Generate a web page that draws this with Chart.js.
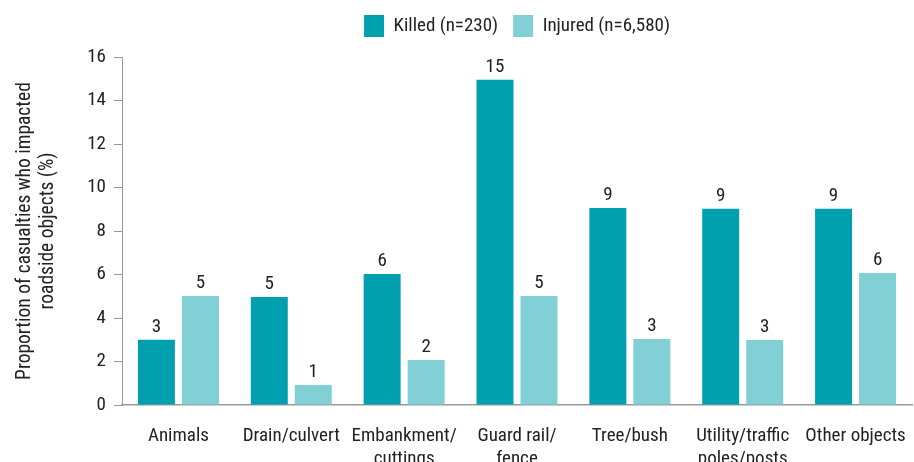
<!DOCTYPE html>
<html>
<head>
<meta charset="utf-8">
<script src="https://cdn.jsdelivr.net/npm/chart.js@4"></script>
<style>
  html, body { margin: 0; padding: 0; background: #fff; }
  #wrap { width: 914px; height: 462px; }
</style>
</head>
<body>
<div id="wrap"><canvas id="chart" width="914" height="462"></canvas></div>
<script>
// Categories and values
const categories = [
  "Animals",
  "Drain/culvert",
  ["Embankment/", "cuttings"],
  ["Guard rail/", "fence"],
  "Tree/bush",
  ["Utility/traffic", "poles/posts"],
  "Other objects",
];
const killed = [3.0, 4.97, 6.02, 14.95, 9.06, 9.02, 9.02];
const injured = [5.01, 0.92, 2.07, 5.01, 3.03, 2.99, 6.07];
const yTicks = [0, 2, 4, 6, 8, 10, 12, 14, 16];

const FONT = "'Liberation Sans Narrow', 'Arial Narrow', 'Roboto Condensed', sans-serif";
const TEXT = "#222";

// Draw rounded values above each bar
const valueLabels = {
  id: "valueLabels",
  afterDatasetsDraw(chart) {
    const ctx = chart.ctx;
    ctx.save();
    ctx.font = "19px " + FONT;
    ctx.fillStyle = TEXT;
    ctx.textAlign = "center";
    ctx.textBaseline = "bottom";
    chart.data.datasets.forEach((ds, i) => {
      chart.getDatasetMeta(i).data.forEach((bar, j) => {
        ctx.fillText(Math.round(ds.data[j]), bar.x, bar.y - 3);
      });
    });
    ctx.restore();
  },
};

// Fix legend height so the plot starts where the reference does
const legendHeight = {
  id: "legendHeight",
  beforeInit(chart) {
    const fit = chart.legend.fit;
    chart.legend.fit = function () {
      fit.bind(chart.legend)();
      this.height = 57;
    };
  },
};

const ctx = document.querySelector("#chart").getContext("2d");
new Chart(ctx, {
  type: "bar",
  data: {
    labels: categories,
    datasets: [
      {
        label: "Killed (n=230)",
        data: killed,
        backgroundColor: "#00a0ae",
        categoryPercentage: 0.78,
        barPercentage: 0.84,
      },
      {
        label: "Injured (n=6,580)",
        data: injured,
        backgroundColor: "#81d0d6",
        categoryPercentage: 0.78,
        barPercentage: 0.84,
      },
    ],
  },
  options: {
    responsive: false,
    animation: false,
    layout: { padding: { left: 0, right: 2, top: 0, bottom: 0 } },
    plugins: {
      tooltip: { enabled: false },
      legend: {
        position: "top",
        fullSize: false,
        labels: {
          boxWidth: 20,
          boxHeight: 22,
          padding: 15,
          color: TEXT,
          font: { family: FONT, size: 19 },
        },
      },
    },
    scales: {
      x: {
        grid: { display: false },
        border: { display: true, color: "#999", width: 1.5 },
        ticks: {
          color: TEXT,
          font: { family: FONT, size: 19, lineHeight: 1.2 },
          padding: 12,
          maxRotation: 0,
          autoSkip: false,
        },
        afterFit(scale) {
          scale.height = 57;
          scale.paddingRight = 0;
          scale.paddingLeft = 0;
        },
      },
      y: {
        min: 0,
        max: 16,
        afterBuildTicks(scale) {
          scale.ticks = yTicks.map((v) => ({ value: v }));
        },
        grid: {
          drawOnChartArea: false,
          drawTicks: true,
          tickLength: 8,
          color: "#999",
        },
        border: { display: true, color: "#999", width: 1 },
        ticks: {
          color: TEXT,
          font: { family: FONT, size: 19 },
          padding: 8,
        },
        title: {
          display: true,
          text: ["Proportion of casualties who impacted", "roadside objects (%)"],
          color: TEXT,
          font: { family: FONT, size: 19.5, lineHeight: 1.2 },
          padding: { top: 13, bottom: 0 },
        },
        afterFit(scale) {
          scale.width = 122;
        },
      },
    },
  },
  plugins: [valueLabels, legendHeight],
});
</script>
</body>
</html>
